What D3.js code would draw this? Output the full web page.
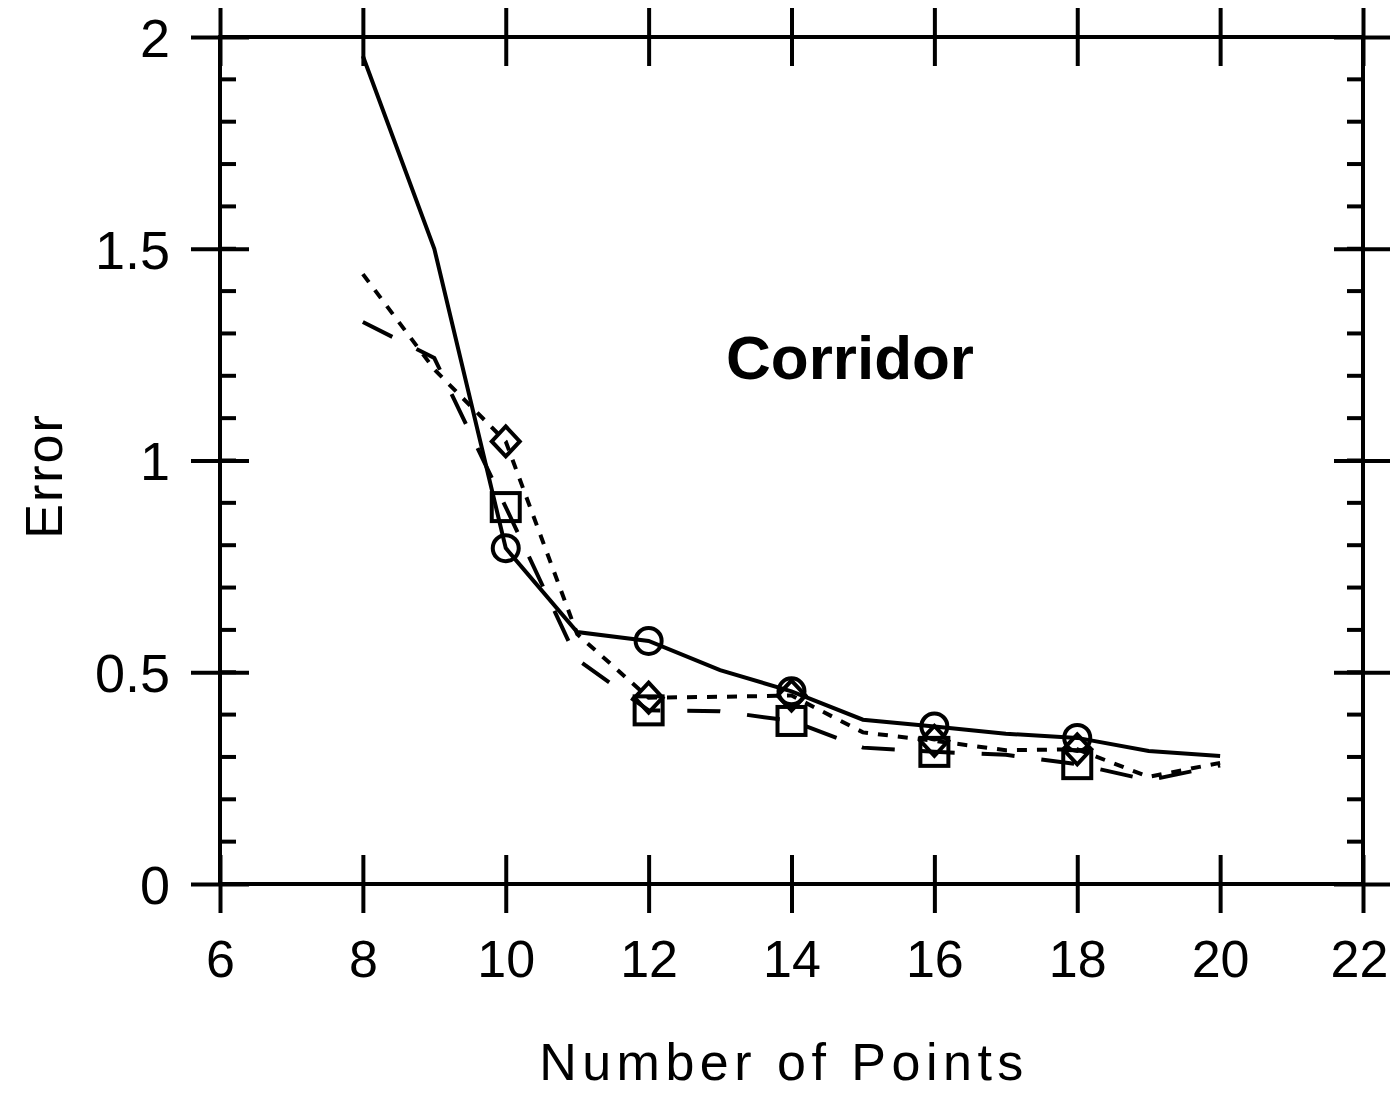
<!DOCTYPE html>
<html>
<head>
<meta charset="utf-8">
<script src="https://cdn.jsdelivr.net/npm/d3@7"></script>
<style>
  html, body { margin: 0; padding: 0; background: #fff; }
  svg { display: block; }
  text { font-family: "Liberation Sans", Arial, sans-serif; fill: #000; }
</style>
</head>
<body>
<svg id="chart" width="1390" height="1095"></svg>
<script>
// Number of points used by each method
const pointCounts = [8, 9, 10, 11, 12, 13, 14, 15, 16, 17, 18, 19, 20];

// Error for each method (one value per point count)
const errSolid     = [1.955, 1.50, 0.793, 0.595, 0.574, 0.505, 0.455, 0.388, 0.372, 0.355, 0.345, 0.314, 0.302];
const errShortDash = [1.44, 1.215, 1.045, 0.590, 0.440, 0.442, 0.445, 0.358, 0.338, 0.316, 0.318, 0.253, 0.286];
const errLongDash  = [1.327, 1.242, 0.890, 0.530, 0.410, 0.408, 0.385, 0.322, 0.312, 0.305, 0.283, 0.245, 0.280];

// Point counts that carry a marker
const markedCounts = [10, 12, 14, 16, 18];

const xTicks = [6, 8, 10, 12, 14, 16, 18, 20, 22];
const yTicks = [0, 0.5, 1, 1.5, 2];
const yMinorTicks = d3.range(0, 2.001, 0.1);

const svg = d3.select("#chart");
const frameL = 220, frameR = 1363, frameT = 37, frameB = 884;

const x = d3.scaleLinear().domain([6, 22]).range([frameL, frameR]);
const y = d3.scaleLinear().domain([0, 2]).range([frameB, frameT]);

const AX = 4;      // axis stroke width
const MAJ = 29;    // half length of major ticks (they cross the frame)
const MIN = 16;    // inward minor tick length
const LW = 4;      // data line / marker stroke width

// Frame
svg.append("rect")
  .attr("x", frameL).attr("y", frameT)
  .attr("width", frameR - frameL).attr("height", frameB - frameT)
  .attr("fill", "none").attr("stroke", "#000").attr("stroke-width", AX);

// Bottom / top x axes: major ticks only, crossing the frame
const gxb = svg.append("g").attr("transform", `translate(0,${frameB})`)
  .call(d3.axisBottom(x).tickValues(xTicks).tickSize(0).tickFormat(d3.format("d")));
gxb.select(".domain").remove();
gxb.selectAll(".tick line").attr("y1", -MAJ).attr("y2", MAJ).attr("stroke", "#000").attr("stroke-width", AX);
gxb.selectAll(".tick text").attr("y", 93).attr("dy", 0).attr("font-size", 52)
   .attr("font-family", "Liberation Sans, Arial, sans-serif").attr("fill", "#000")
   .attr("x", d => d === 22 ? -4 : 0);

const gxt = svg.append("g").attr("transform", `translate(0,${frameT})`)
  .call(d3.axisTop(x).tickValues(xTicks).tickSize(0).tickFormat(""));
gxt.select(".domain").remove();
gxt.selectAll(".tick line").attr("y1", -MAJ).attr("y2", MAJ).attr("stroke", "#000").attr("stroke-width", AX);

// Left / right y axes: crossing major ticks plus inward minor ticks
const gyl = svg.append("g").attr("transform", `translate(${frameL},0)`)
  .call(d3.axisLeft(y).tickValues(yTicks).tickSize(0).tickFormat(d3.format("")));
gyl.select(".domain").remove();
gyl.selectAll(".tick line").attr("x1", -MAJ).attr("x2", MAJ).attr("stroke", "#000").attr("stroke-width", AX);
gyl.selectAll(".tick text").attr("x", -50).attr("dy", "0.36em").attr("font-size", 54)
   .attr("font-family", "Liberation Sans, Arial, sans-serif").attr("fill", "#000");

const gyr = svg.append("g").attr("transform", `translate(${frameR},0)`)
  .call(d3.axisRight(y).tickValues(yTicks).tickSize(0).tickFormat(""));
gyr.select(".domain").remove();
gyr.selectAll(".tick line").attr("x1", -MAJ).attr("x2", MAJ).attr("stroke", "#000").attr("stroke-width", AX);

const minor = svg.append("g").attr("stroke", "#000").attr("stroke-width", AX);
minor.selectAll("line.ml").data(yMinorTicks).join("line").attr("class", "ml")
  .attr("x1", frameL).attr("x2", frameL + MIN).attr("y1", d => y(d)).attr("y2", d => y(d));
minor.selectAll("line.mr").data(yMinorTicks).join("line").attr("class", "mr")
  .attr("x1", frameR - MIN).attr("x2", frameR).attr("y1", d => y(d)).attr("y2", d => y(d));

// Series
const series = [
  { values: errSolid,     dash: null,    marker: "circle"  },
  { values: errShortDash, dash: "10,10", marker: "diamond" },
  { values: errLongDash,  dash: "33,27", marker: "square"  }
];

const line = d3.line().x(d => x(d[0])).y(d => y(d[1]));

const plot = svg.append("g");
series.forEach(s => {
  const pts = pointCounts.map((n, i) => [n, s.values[i]]);
  plot.append("path")
    .attr("d", line(pts))
    .attr("fill", "none")
    .attr("stroke", "#000")
    .attr("stroke-width", LW)
    .attr("stroke-dasharray", s.dash);

  const marked = pts.filter(p => markedCounts.includes(p[0]));
  const g = plot.append("g").attr("fill", "none").attr("stroke", "#000").attr("stroke-width", LW);
  if (s.marker === "circle") {
    g.selectAll("circle").data(marked).join("circle")
      .attr("cx", d => x(d[0])).attr("cy", d => y(d[1])).attr("r", 13);
  } else if (s.marker === "square") {
    g.selectAll("rect").data(marked).join("rect")
      .attr("x", d => x(d[0]) - 14).attr("y", d => y(d[1]) - 14)
      .attr("width", 28).attr("height", 28);
  } else {
    g.selectAll("path").data(marked).join("path")
      .attr("d", d => {
        const cx = x(d[0]), cy = y(d[1]);
        return `M${cx},${cy - 15}L${cx + 14},${cy}L${cx},${cy + 15}L${cx - 14},${cy}Z`;
      });
  }
});

// Labels
svg.append("text")
  .attr("x", 850).attr("y", 379)
  .attr("text-anchor", "middle")
  .attr("font-size", 62).attr("font-weight", "bold")
  .text("Corridor");

svg.append("text")
  .attr("x", 784).attr("y", 1080)
  .attr("text-anchor", "middle")
  .attr("font-size", 52).attr("letter-spacing", 5.5)
  .text("Number of Points");

svg.append("text")
  .attr("transform", "translate(62,476) rotate(-90)")
  .attr("text-anchor", "middle")
  .attr("font-size", 52).attr("letter-spacing", 2)
  .text("Error");
</script>
</body>
</html>
